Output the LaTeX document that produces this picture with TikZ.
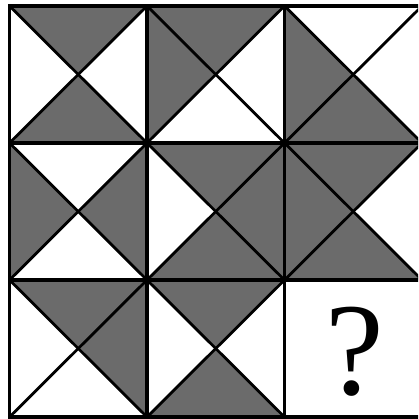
\documentclass[tikz,border=0pt]{standalone}
\usepackage{fontspec}
\newfontfamily\qfont{Liberation Serif}
\colorlet{sh}{black!58}
\colorlet{wh}{white}
\tikzset{
  gridline/.style={line width=3.6pt, line join=miter},
  diagline/.style={line width=2.8pt, line cap=butt},
}
\begin{document}
\begin{tikzpicture}[x=1pt,y=-1pt]
\useasboundingbox (0,0) rectangle (418,419);
\begin{scope}
\clip (0,0) rectangle (418,419);
\fill[white] (0,0) rectangle (418,419);
\foreach \c/\r/\T/\R/\B/\L in {
  0/0/sh/wh/sh/wh, 1/0/sh/wh/wh/sh, 2/0/wh/wh/sh/sh,
  0/1/wh/sh/wh/sh, 1/1/sh/sh/sh/wh, 2/1/sh/wh/sh/sh,
  0/2/sh/sh/wh/wh, 1/2/sh/wh/sh/wh} {
  \begin{scope}[shift={({9.5+137.5*\c},{6+137*\r})}]
    \coordinate (tl) at (0,0);
    \coordinate (tr) at (137.5,0);
    \coordinate (br) at (137.5,137);
    \coordinate (bl) at (0,137);
    \coordinate (ct) at (68.75,68.5);
    \fill[\T] (tl) -- (tr) -- (ct) -- cycle;
    \fill[\R] (tr) -- (br) -- (ct) -- cycle;
    \fill[\B] (br) -- (bl) -- (ct) -- cycle;
    \fill[\L] (bl) -- (tl) -- (ct) -- cycle;
    \draw[diagline] (tl) -- (br);
    \draw[diagline] (tr) -- (bl);
  \end{scope}
}
\coordinate (g00) at (9.5,6);
\coordinate (g33) at (422,417);
\draw[gridline] (g00) rectangle (g33);
\draw[gridline] (147,6) -- (147,417);
\draw[gridline] (284.5,6) -- (284.5,417);
\draw[gridline] (9.5,143) -- (422,143);
\draw[gridline] (9.5,280) -- (422,280);
\end{scope}
\node[inner sep=0pt, font=\qfont\fontsize{132}{132}\selectfont] (q) at (355,352) {?};
\end{tikzpicture}
\end{document}
